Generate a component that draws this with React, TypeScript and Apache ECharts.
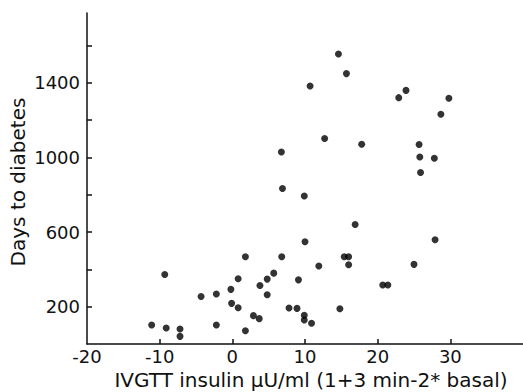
import React, { useEffect, useRef } from "react";
import * as echarts from "echarts";

const xValues = [
  -11.1, -9.3, -9.1, -7.2, -7.2, -4.3, -2.2, -2.2, -0.2, -0.1, 0.8, 1.8, 0.8, 1.8, 2.9, 3.7, 3.8, 4.8, 4.8, 5.7,
  6.8, 10.0, 11.9, 9.1, 7.8, 8.9, 9.9, 9.9, 10.9, 14.8, 15.4, 16.0, 16.0, 20.7, 21.4,
  25.0, 27.9,
  14.6, 15.7, 10.7, 12.7, 6.75, 17.8, 6.9, 9.9, 16.9,
  23.9, 22.9, 29.8, 28.7, 25.7, 25.8, 27.8, 25.9,
];
const yValues = [
  102, 373, 86, 80, 41, 255, 268, 102, 293, 218, 194, 468, 350, 71, 152, 136, 314, 348, 264, 380,
  468, 548, 418, 344, 193, 191, 154, 129, 111, 189, 468, 468, 425, 316, 316,
  427, 559,
  1555, 1450, 1384, 1102, 1030, 1071, 834, 794, 641,
  1360, 1321, 1318, 1232, 1070, 1003, 996, 920,
];
const xTicks = [-10, 0, 10, 20, 30];
const xLabels = [-20, -10, 0, 10, 20, 30];
const yTicks = [200, 400, 600, 800, 1000, 1200, 1400, 1600];
const yLabels = [200, 600, 1000, 1400];
const xTitle = "IVGTT insulin μU/ml (1+3 min-2* basal)";
const yTitle = "Days to diabetes";

const FONT = "DejaVu Sans";
const COLOR = "#111";

export default function App() {
  const ref = useRef<HTMLDivElement>(null);
  useEffect(() => {
    if (!ref.current) return;
    const chart = echarts.init(ref.current, null, { renderer: "svg" });
    const data = xValues.map((x, i) => [x, yValues[i]]);
    chart.setOption({
      animation: false,
      backgroundColor: "#fff",
      grid: { left: 87, top: 13, right: -7, bottom: 48, containLabel: false },
      xAxis: {
        type: "value",
        min: -20,
        max: 40,
        interval: 10,
        splitLine: { show: false },
        axisLine: { show: true, onZero: false, lineStyle: { color: COLOR, width: 1.5 } },
        axisTick: { show: true, inside: true, length: 5, customValues: xTicks, lineStyle: { color: COLOR, width: 1.5 } },
        axisLabel: {
          customValues: xLabels,
          formatter: (v: number) => String(v),
          margin: 3,
          color: COLOR,
          fontFamily: FONT,
          fontSize: 18,
        },
      },
      yAxis: {
        type: "value",
        min: 0,
        max: 1775,
        splitLine: { show: false },
        axisLine: { show: true, onZero: false, lineStyle: { color: COLOR, width: 1.5 } },
        axisTick: { show: true, inside: true, length: 5, customValues: yTicks, lineStyle: { color: COLOR, width: 1.5 } },
        axisLabel: {
          customValues: yLabels,
          formatter: (v: number) => String(v),
          margin: 7,
          color: COLOR,
          fontFamily: FONT,
          fontSize: 18,
        },
      },
      graphic: [
        {
          type: "text",
          x: 311,
          y: 380,
          style: {
            text: xTitle,
            fill: COLOR,
            font: `20px ${FONT}`,
            align: "center",
            verticalAlign: "middle",
          },
        },
        {
          type: "text",
          x: 18,
          y: 182,
          rotation: Math.PI / 2,
          style: {
            text: yTitle,
            fill: COLOR,
            font: `20px ${FONT}`,
            align: "center",
            verticalAlign: "middle",
          },
        },
      ],
      series: [
        {
          type: "scatter",
          data,
          symbol: "circle",
          symbolSize: 7,
          itemStyle: { color: "#000" },
        },
      ],
    });
    return () => chart.dispose();
  }, []);
  return <div ref={ref} style={{ width: 523, height: 392, position: "absolute", left: 0, top: 0 }} />;
}
